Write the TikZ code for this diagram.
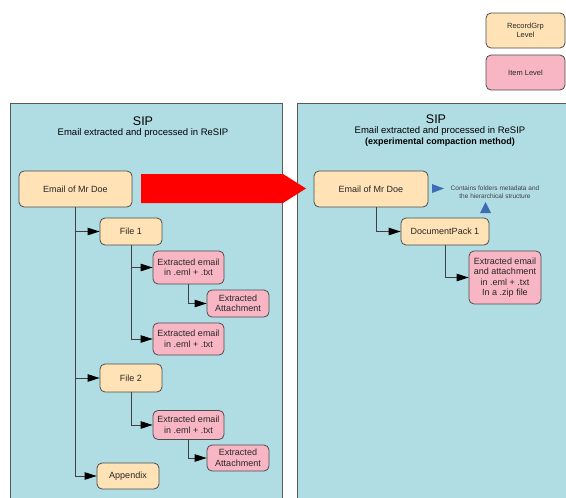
\documentclass[tikz,border=0pt]{standalone}
\usepackage{fontspec}
\setmainfont{Liberation Sans}
\usetikzlibrary{arrows.meta,positioning,calc}

\definecolor{sipbg}{RGB}{176,221,227}
\definecolor{grpfill}{RGB}{255,226,181}
\definecolor{itemfill}{RGB}{248,182,196}
\definecolor{noteblue}{RGB}{60,108,180}

\begin{document}
\begin{tikzpicture}[
            x=1pt, y=-1pt,
            panel/.style={fill=sipbg, draw=black!65, line width=0.8pt},
            grp/.style={draw=black!70, fill=grpfill, rounded corners=5pt, line width=0.8pt, align=center,
                        inner sep=0pt, text=black!85, font=\fontsize{9}{10.5}\selectfont},
            item/.style={grp, fill=itemfill},
            link/.style={draw=black!75, line width=0.8pt, -{Triangle[length=12pt,width=7.5pt,color=black]}},
            title/.style={font=\fontsize{12.5}{14}\selectfont, inner sep=0pt},
            subtitle/.style={font=\fontsize{9.5}{11}\selectfont, inner sep=0pt},
        ]
        \useasboundingbox (0,0) rectangle (566,498);
        \clip (0,0) rectangle (566,498);
        % LEGEND
        \node[grp, minimum width=79pt, minimum height=35pt, font=\fontsize{7.5}{9}\selectfont] (legGrp) at (525.5,30.5) {RecordGrp\\Level};
        \node[item, minimum width=79pt, minimum height=35pt, font=\fontsize{7.5}{9}\selectfont] (legItem) at (525.5,72.5) {Item Level};
        % LEFT: one record per file
        \begin{scope}
            \draw[panel] (10,103) rectangle (282,510);
            \node[title] (sipL) at (143,121) {SIP};
            \node[subtitle] (subL) at (143,133) {Email extracted and processed in ReSIP};
            \node[grp, minimum width=113pt, minimum height=36pt] (emailL) at (75.5,189) {Email of Mr Doe};
            \node[grp, minimum width=62pt, minimum height=27pt] (file1) at (131,231.5) {File 1};
            \node[item, minimum width=71pt, minimum height=33pt] (ee1) at (188.5,267.5) {Extracted email\\in .eml + .txt};
            \node[item, minimum width=62pt, minimum height=27pt] (att1) at (238,303.5) {Extracted\\Attachment};
            \node[item, minimum width=71pt, minimum height=32pt] (ee2) at (188.5,339) {Extracted email\\in .eml + .txt};
            \node[grp, minimum width=62pt, minimum height=28pt] (file2) at (131,378) {File 2};
            \node[item, minimum width=71pt, minimum height=29pt] (ee3) at (188.5,425) {Extracted email\\in .eml + .txt};
            \node[item, minimum width=62pt, minimum height=26pt] (att2) at (238,458) {Extracted\\Attachment};
            \node[grp, minimum width=62pt, minimum height=26pt] (appendix) at (128,476) {Appendix};
            \draw[link] (emailL.south) |- (file1.west);
            \draw[link] (emailL.south) |- (file2.west);
            \draw[link] (emailL.south) |- (appendix.west);
            \draw[link] (file1.south) |- (ee1.west);
            \draw[link] (file1.south) |- (ee2.west);
            \draw[link] (ee1.south) |- (att1.west);
            \draw[link] (file2.south) |- (ee3.west);
            \draw[link] (ee3.south) |- (att2.west);
        \end{scope}
        % RIGHT: compacted
        \begin{scope}
            \draw[panel] (297,103) rectangle (580,510);
            \node[title] (sipR) at (436,119) {SIP};
            \node[subtitle] (subR) at (440,131) {Email extracted and processed in ReSIP};
            \node[subtitle, font=\fontsize{9}{11}\selectfont\bfseries] (methodR) at (440,142) {(experimental compaction method)};
            \node[grp, minimum width=114pt, minimum height=36pt] (emailR) at (371,189) {Email of Mr Doe};
            \node[grp, minimum width=88pt, minimum height=27pt] (docpack) at (445,231.5) {DocumentPack 1};
            \node[item, minimum width=72pt, minimum height=53pt] (ee4) at (505,277.5) {Extracted email\\and attachment\\in .eml + .txt\\In a .zip file};
            \node[align=center, inner sep=0pt, text=black!75, font=\fontsize{6.5}{8}\selectfont] (note) at (495,192) {Contains folders metadata and\\the hierarchical structure};
            \draw[link] ([xshift=5pt]emailR.south) |- (docpack.west);
            \draw[link] (docpack.south) |- (ee4.west);
            \fill[noteblue] (432,184) -- (444,188.5) -- (432,193) -- cycle;
            \fill[noteblue] (480,213) -- (485.5,202) -- (491,213) -- cycle;
        \end{scope}
        % big arrow between the two
        \fill[red] (141,174) -- (283,174) -- (306,188.5) -- (283,203) -- (141,203) -- cycle;
\end{tikzpicture}
\end{document}
